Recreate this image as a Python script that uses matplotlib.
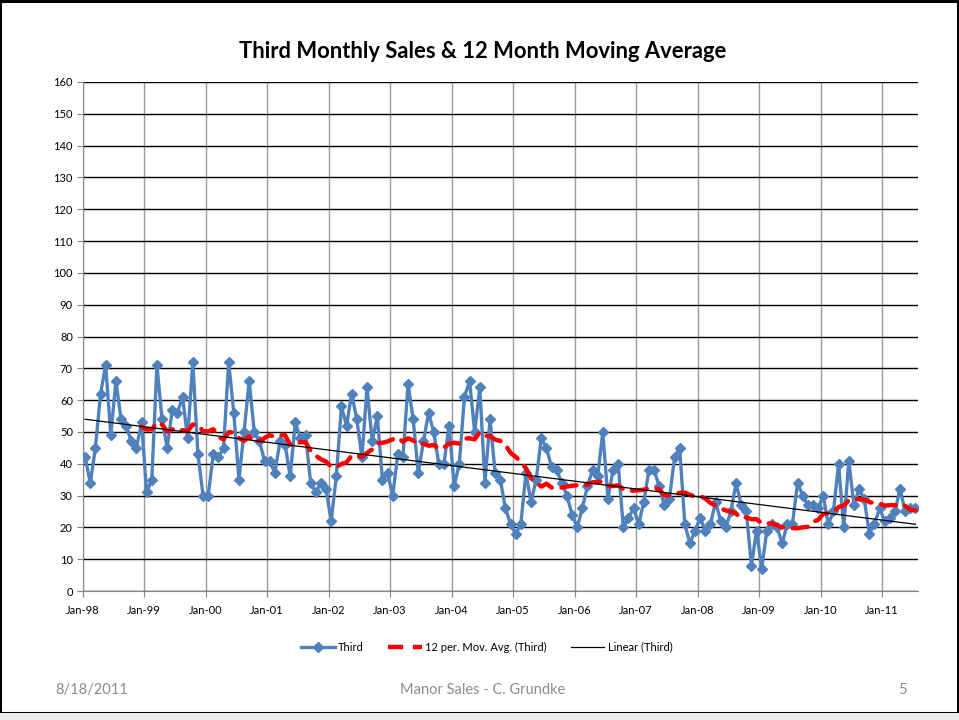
import numpy as np
import matplotlib
matplotlib.use("Agg")
import matplotlib.pyplot as plt
from matplotlib.patches import Rectangle
from matplotlib.lines import Line2D

plt.rcParams['font.family'] = ['Lato', 'DejaVu Sans']

# Monthly sales, Jan-1998 .. Jul-2011
third = [
    42, 34, 45, 62, 71, 49, 66, 54, 52, 47, 45, 53,   # 1998
    31, 35, 71, 54, 45, 57, 56, 61, 48, 72, 43, 30,   # 1999
    30, 43, 42, 45, 72, 56, 35, 50, 66, 50, 47, 41,   # 2000
    41, 37, 47, 46, 36, 53, 48, 49, 34, 31, 34, 32,   # 2001
    22, 36, 58, 52, 62, 54, 42, 64, 47, 55, 35, 37,   # 2002
    30, 43, 42, 65, 54, 37, 47, 56, 50, 40, 40, 52,   # 2003
    33, 40, 61, 66, 50, 64, 34, 54, 37, 35, 26, 21,   # 2004
    18, 21, 37, 28, 35, 48, 45, 39, 38, 34, 30, 24,   # 2005
    20, 26, 33, 38, 36, 50, 29, 38, 40, 20, 23, 26,   # 2006
    21, 28, 38, 38, 33, 27, 29, 42, 45, 21, 15, 19,   # 2007
    23, 19, 21, 28, 22, 20, 25, 34, 27, 25, 8, 19,    # 2008
    7, 19, 21, 20, 15, 21, 21, 34, 30, 27, 27, 26,    # 2009
    30, 21, 25, 40, 20, 41, 27, 32, 29, 18, 21, 26,   # 2010
    22, 23, 25, 32, 25, 26, 26,                       # 2011
]
tick_labels = ['Jan-98', 'Jan-99', 'Jan-00', 'Jan-01', 'Jan-02', 'Jan-03', 'Jan-04',
               'Jan-05', 'Jan-06', 'Jan-07', 'Jan-08', 'Jan-09', 'Jan-10', 'Jan-11']
title = 'Third Monthly Sales & 12 Month Moving Average'
legend_labels = ['Third', '12 per. Mov. Avg. (Third)', 'Linear (Third)']
footer = ['8/18/2011', 'Manor Sales - C. Grundke', '5']

vals = np.array(third, dtype=float)
n = len(vals)
x = np.arange(n) + 0.5
ma = np.convolve(vals, np.ones(12) / 12, mode='valid')
coef = np.polyfit(x, vals, 1)

W, H = 959, 720
fig = plt.figure(figsize=(W / 100, H / 100), dpi=100)
fig.patch.set_facecolor('white')

# slide frame
fig.patches.append(Rectangle((0, 7 / H), 1 - 1.5 / W, 1 - 7 / H - 1 / H, transform=fig.transFigure,
                             fill=False, edgecolor='black', linewidth=2.2, zorder=0))
fig.patches.append(Rectangle((0, 0), 1, 7 / H, transform=fig.transFigure,
                             facecolor='#ececec', edgecolor='none', zorder=0))

left, right, top, bottom = 82.6, 918, 82, 591
ax = fig.add_axes([left / W, 1 - bottom / H, (right - left) / W, (bottom - top) / H])

ax.plot(x, vals, color='#4F81BD', linewidth=2.4, marker='D', markersize=5.5,
        markerfacecolor='#4F81BD', markeredgecolor='#4F81BD', zorder=3)
ax.plot(x[11:], ma, color='#FF0000', linewidth=3.2, linestyle=(0, (3.4, 2.2)),
        dash_capstyle='round', zorder=4)
xt = np.array([x[0], x[-1]])
ax.plot(xt, np.polyval(coef, xt), color='black', linewidth=0.9, zorder=5)

ax.set_xlim(0, n)
ax.set_ylim(0, 160)
ax.set_yticks(np.arange(0, 161, 10))
ax.set_xticks(np.arange(0, n, 12))
ax.set_xticklabels(tick_labels)
ax.grid(axis='y', color='black', linewidth=1.0, zorder=0)
ax.grid(axis='x', color='#9a9a9a', linewidth=1.0, zorder=0)
ax.set_axisbelow(True)
for s in ['top', 'right']:
    ax.spines[s].set_visible(False)
ax.spines['left'].set_color('#868686')
ax.spines['bottom'].set_color('#868686')
ax.tick_params(axis='both', labelsize=8, colors='black', length=4, color='#868686', pad=3)
ax.tick_params(axis='x', pad=6)

fig.text(483 / W, 1 - 52 / H, title, ha='center', va='center', fontsize=15.8, fontweight='bold')

handles = [
    Line2D([], [], color='#4F81BD', linewidth=2.4, marker='D', markersize=5),
    Line2D([], [], color='#FF0000', linewidth=3.2, linestyle=(0, (3.4, 2.2))),
    Line2D([], [], color='black', linewidth=0.9),
]
fig.legend(handles, legend_labels, loc='center', bbox_to_anchor=(487 / W, 1 - 647 / H), ncol=3,
           frameon=False, fontsize=8, handlelength=3.0, columnspacing=2.2, handletextpad=0.3)

fig.text(55 / W, 1 - 690 / H, footer[0], ha='left', va='center', fontsize=10.5, color='#8c8c8c')
fig.text(483 / W, 1 - 690 / H, footer[1], ha='center', va='center', fontsize=10.5, color='#8c8c8c')
fig.text(907 / W, 1 - 690 / H, footer[2], ha='right', va='center', fontsize=10.5, color='#8c8c8c')

fig.savefig('out.png', dpi=100)
